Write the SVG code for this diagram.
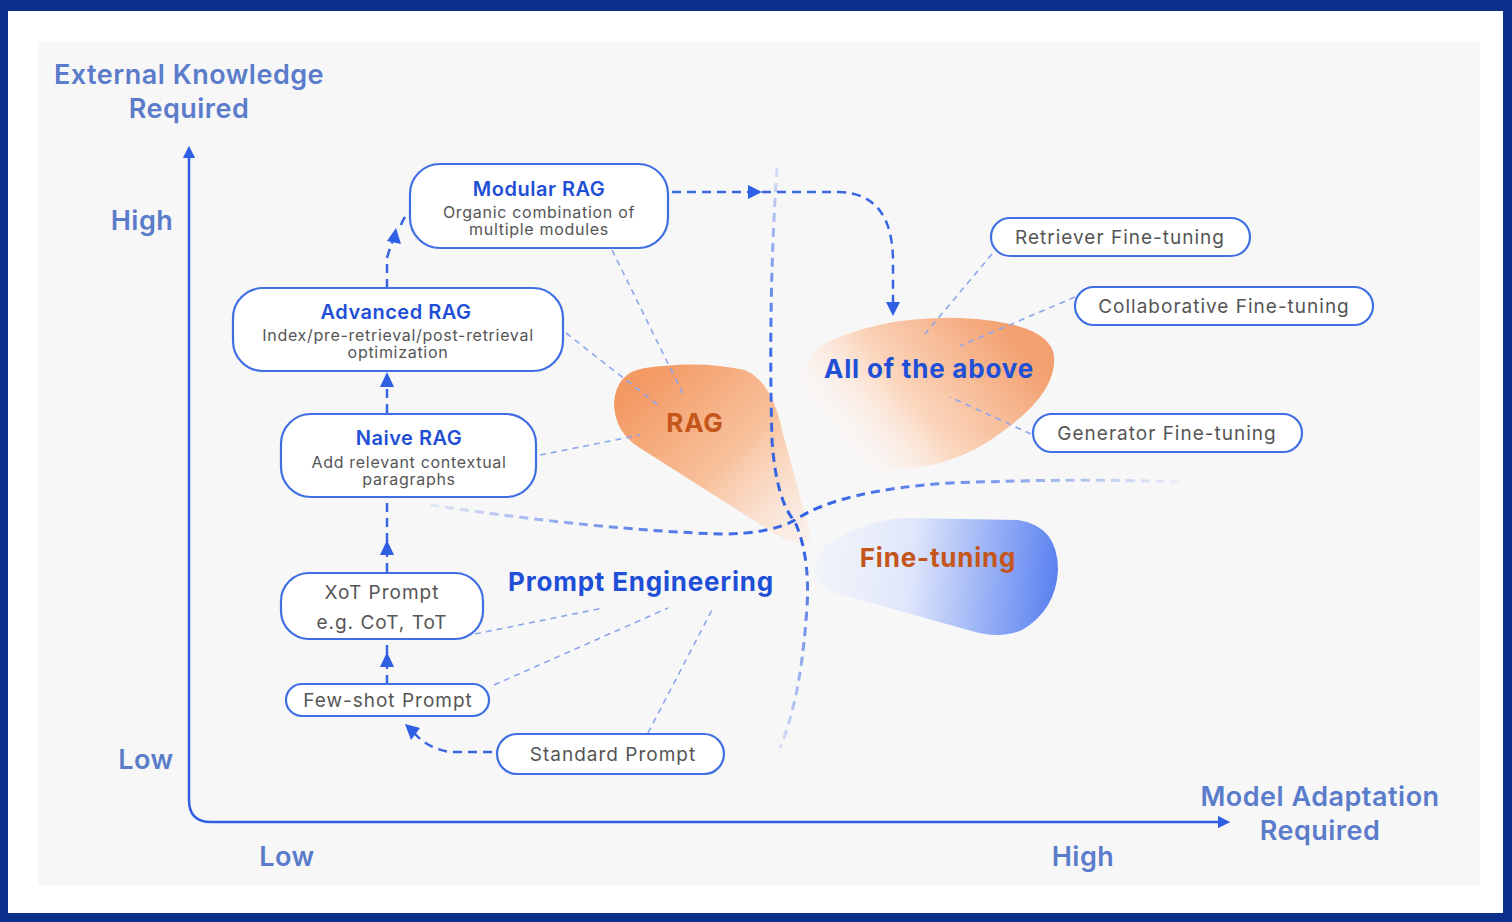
<svg xmlns="http://www.w3.org/2000/svg" width="1512" height="922" viewBox="0 0 1512 922">
<defs>
<style>
.axlab{font-family:Inter,"Noto Sans","Liberation Sans",sans-serif;font-weight:600;fill:#5b7cca;font-size:27px;letter-spacing:0.5px;text-anchor:middle}
.node{fill:#ffffff;stroke:#3f6fe2;stroke-width:2.2}
.title{font-family:Inter,"Noto Sans","Liberation Sans",sans-serif;font-weight:600;fill:#1f4fd6;font-size:20px;letter-spacing:0.5px;text-anchor:middle}
.sub{font-family:Inter,"Noto Sans","Liberation Sans",sans-serif;fill:#555;font-size:16px;letter-spacing:0.7px;text-anchor:middle}
.gt{font-family:Inter,"Noto Sans","Liberation Sans",sans-serif;fill:#555;font-size:19px;letter-spacing:1px;text-anchor:middle}
.big{font-family:Inter,"Noto Sans","Liberation Sans",sans-serif;font-weight:700;font-size:26px;letter-spacing:0.8px;text-anchor:middle}
.flow{fill:none;stroke:#3a66e2;stroke-width:2.5;stroke-dasharray:9 6}
.thin{fill:none;stroke:#8ea6ec;stroke-width:1.6;stroke-dasharray:6 5}
.ah{fill:#2f5fe4}
</style>
<marker id="axh" viewBox="0 0 10 10" refX="5" refY="5" markerWidth="5" markerHeight="5" orient="auto-start-reverse"><path d="M0,0 L10,5 L0,10 Z" fill="#2f5fe4"/></marker>
<linearGradient id="gRag" x1="640" y1="385" x2="805" y2="545" gradientUnits="userSpaceOnUse">
<stop offset="0" stop-color="#f39a64"/><stop offset="0.5" stop-color="#f8c19c"/><stop offset="1" stop-color="#fde8da" stop-opacity="0.4"/></linearGradient>
<linearGradient id="gAll" x1="1010" y1="330" x2="840" y2="470" gradientUnits="userSpaceOnUse">
<stop offset="0" stop-color="#f3a070"/><stop offset="0.55" stop-color="#fbd6bd"/><stop offset="1" stop-color="#ffffff" stop-opacity="0"/></linearGradient>
<linearGradient id="gFt" x1="815" y1="565" x2="1055" y2="590" gradientUnits="userSpaceOnUse">
<stop offset="0" stop-color="#e6ecfc" stop-opacity="0.3"/><stop offset="0.4" stop-color="#dfe6fb"/><stop offset="1" stop-color="#5b82f0"/></linearGradient>
<linearGradient id="gV" x1="0" y1="165" x2="0" y2="750" gradientUnits="userSpaceOnUse">
<stop offset="0" stop-color="#2f5fe4" stop-opacity="0.15"/><stop offset="0.3" stop-color="#2f5fe4" stop-opacity="0.9"/><stop offset="0.65" stop-color="#2f5fe4"/><stop offset="1" stop-color="#2f5fe4" stop-opacity="0.15"/></linearGradient>
<linearGradient id="gH" x1="430" y1="0" x2="1180" y2="0" gradientUnits="userSpaceOnUse">
<stop offset="0" stop-color="#2f5fe4" stop-opacity="0.1"/><stop offset="0.3" stop-color="#2f5fe4" stop-opacity="0.8"/><stop offset="0.5" stop-color="#2f5fe4"/><stop offset="0.75" stop-color="#2f5fe4" stop-opacity="0.6"/><stop offset="1" stop-color="#2f5fe4" stop-opacity="0.05"/></linearGradient>
</defs>

<rect x="0" y="0" width="1512" height="922" fill="#0d2f8c"/>
<rect x="8" y="11" width="1495" height="902" fill="#ffffff"/>
<rect x="38" y="42" width="1442" height="843" fill="#f7f7f8"/>

<g id="blobs">
<path d="M 645 368 Q 700 360 745 370 Q 772 382 782 430 L 812 540 Q 795 548 772 532 L 640 448 Q 614 432 614 402 Q 617 372 645 368 Z" fill="url(#gRag)"/>
<path d="M 822 345 Q 880 316 960 318 Q 1048 322 1054 355 Q 1058 392 1002 432 Q 950 472 878 470 Q 800 462 798 402 Q 800 362 822 345 Z" fill="url(#gAll)"/>
<path d="M 825 545 Q 865 520 905 518 L 1018 520 Q 1058 526 1058 570 Q 1056 610 1022 630 Q 1000 640 968 630 L 832 592 Q 800 578 825 545 Z" fill="url(#gFt)"/>
</g>

<g id="axes">
<path d="M 189 152 L 189 800 Q 189 822 211 822 L 1224 822" fill="none" stroke="#2f5fe4" stroke-width="2.5" marker-start="url(#axh)" marker-end="url(#axh)"/>
<text class="axlab" x="189" y="84">External Knowledge</text>
<text class="axlab" x="189" y="118">Required</text>
<text class="axlab" x="142" y="230">High</text>
<text class="axlab" x="146" y="769">Low</text>
<text class="axlab" x="287" y="866">Low</text>
<text class="axlab" x="1083" y="866">High</text>
<text class="axlab" x="1320" y="806">Model Adaptation</text>
<text class="axlab" x="1320" y="840">Required</text>
</g>

<g id="connectors">
<path d="M 777 168 Q 768 300 772 440 Q 776 500 795 522 Q 812 560 806 620 Q 800 700 780 748" fill="none" stroke="url(#gV)" stroke-width="3" stroke-dasharray="9 6"/>
<path d="M 430 505 Q 600 530 720 534 Q 770 534 795 520 Q 840 490 950 483 Q 1080 478 1180 482" fill="none" stroke="url(#gH)" stroke-width="3" stroke-dasharray="9 6"/>
<path class="flow" d="M 672 192 L 840 192 Q 893 194 893 262 L 893 304"/>
<polygon class="ah" points="762,192 748,185 748,199"/>
<polygon class="ah" points="893,316 886,302 900,302"/>
<path class="flow" d="M 492 752 L 450 752 Q 425 748 412 730"/>
<polygon class="ah" points="405,724 420,728 411,740"/>
<path class="flow" d="M 387 684 L 387 641"/>
<polygon class="ah" points="387,652 380,667 394,667"/>
<path class="flow" d="M 387 572 L 387 498"/>
<polygon class="ah" points="387,540 380,555 394,555"/>
<path class="flow" d="M 387 413 L 387 384"/>
<polygon class="ah" points="387,372 380,387 394,387"/>
<path class="flow" d="M 387 288 L 387 258 Q 392 240 398 230"/>
<path class="flow" d="M 401 225 Q 404 216 410 212"/>
<polygon class="ah" points="396,228 387,241 401,244"/>
<path class="thin" d="M 612 250 L 684 396"/>
<path class="thin" d="M 566 333 L 658 405"/>
<path class="thin" d="M 540 455 L 640 435"/>
<path class="thin" d="M 475 634 L 603 608"/>
<path class="thin" d="M 494 685 L 668 608"/>
<path class="thin" d="M 648 733 L 713 608"/>
<path class="thin" d="M 992 254 L 925 334"/>
<path class="thin" d="M 1075 297 L 960 346"/>
<path class="thin" d="M 1031 434 L 950 397"/>
</g>

<g id="labels">
<text class="big" x="695" y="432" fill="#c4561c">RAG</text>
<text class="big" x="929" y="378" fill="#1f4fd6" font-size="27">All of the above</text>
<text class="big" x="938" y="567" fill="#c4561c">Fine-tuning</text>
<text class="big" x="641" y="591" fill="#1f4fd6">Prompt Engineering</text>
</g>

<g id="modular">
<rect class="node" x="410" y="164" width="258" height="84" rx="30"/>
<text class="title" x="539" y="196">Modular RAG</text>
<text class="sub" x="539" y="218">Organic combination of</text>
<text class="sub" x="539" y="235">multiple modules</text>
</g>
<g id="advanced">
<rect class="node" x="233" y="288" width="330" height="83" rx="30"/>
<text class="title" x="396" y="319">Advanced RAG</text>
<text class="sub" x="398" y="341">Index/pre-retrieval/post-retrieval</text>
<text class="sub" x="398" y="358">optimization</text>
</g>
<g id="naive">
<rect class="node" x="281" y="414" width="255" height="83" rx="30"/>
<text class="title" x="409" y="445">Naive RAG</text>
<text class="sub" x="409" y="468">Add relevant contextual</text>
<text class="sub" x="409" y="485">paragraphs</text>
</g>
<g id="xot">
<rect class="node" x="281" y="573" width="202" height="66" rx="28"/>
<text class="gt" x="382" y="599">XoT Prompt</text>
<text class="gt" x="382" y="629">e.g. CoT, ToT</text>
</g>
<g id="fewshot">
<rect class="node" x="286" y="684" width="203" height="32" rx="16"/>
<text class="gt" x="388" y="707">Few-shot Prompt</text>
</g>
<g id="standard">
<rect class="node" x="497" y="734" width="227" height="40" rx="20"/>
<text class="gt" x="613" y="761">Standard Prompt</text>
</g>
<g id="retriever">
<rect class="node" x="991" y="218" width="259" height="38" rx="19"/>
<text class="gt" x="1120" y="244">Retriever Fine-tuning</text>
</g>
<g id="collab">
<rect class="node" x="1075" y="287" width="298" height="38" rx="19"/>
<text class="gt" x="1224" y="313">Collaborative Fine-tuning</text>
</g>
<g id="generator">
<rect class="node" x="1033" y="414" width="269" height="38" rx="19"/>
<text class="gt" x="1167" y="440">Generator Fine-tuning</text>
</g>
</svg>
